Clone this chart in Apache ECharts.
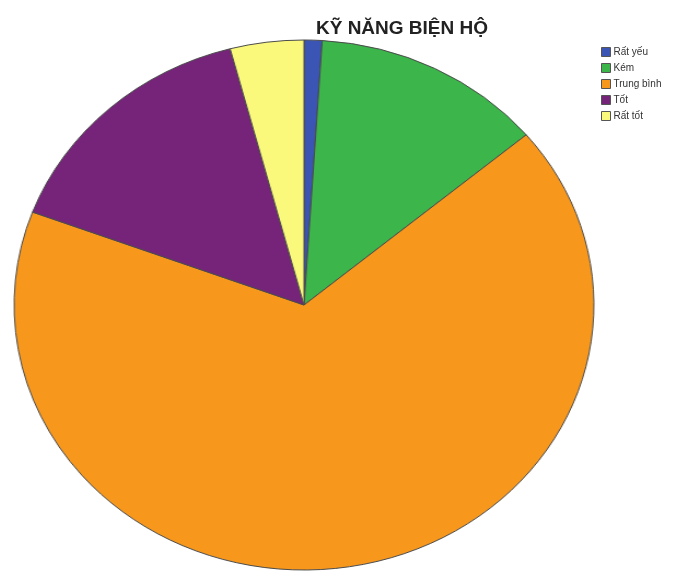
<!DOCTYPE html>
<html>
<head>
<meta charset="utf-8">
<script src="https://cdn.jsdelivr.net/npm/echarts@6/dist/echarts.min.js"></script>
<style>
  html, body { margin: 0; padding: 0; background: #fff; }
  #wrap { position: relative; width: 678px; height: 572px; overflow: hidden; }
  #pie, #top { position: absolute; left: 0; top: 0; width: 678px; height: 572px; }
  /* the original pie is slightly wider than tall */
  #pie { transform-origin: 304px 305px; transform: scaleX(1.094); }
</style>
</head>
<body>
<div id="wrap">
  <div id="pie"></div>
  <div id="top"></div>
</div>
<script type="text/javascript">
    var titleText = 'KỸ NĂNG BIỆN HỘ';
    var categories = ['Rất yếu', 'Kém', 'Trung bình', 'Tốt', 'Rất tốt'];
    var percents = [1.0, 12.9, 66.8, 15.2, 4.1];
    var colors = ['#3a55b4', '#3cb54a', '#f7981d', '#75247a', '#fbf97b'];

    var pieData = [];
    for (var i = 0; i < categories.length; i++) {
        pieData.push({name: categories[i], value: percents[i], itemStyle: {color: colors[i]}});
    }

    // pie itself (stretched horizontally via css)
    var pieChart = echarts.init(document.getElementById('pie'));
    pieChart.setOption({
        animation: false,
        series: [{
            type: 'pie',
            center: [304, 305],
            radius: 265,
            startAngle: 90,
            clockwise: true,
            label: {show: false},
            labelLine: {show: false},
            itemStyle: {borderColor: '#4a4a4a', borderWidth: 1},
            emphasis: {disabled: true},
            data: pieData
        }]
    });

    // title + legend on top, not stretched
    var topChart = echarts.init(document.getElementById('top'));
    topChart.setOption({
        animation: false,
        title: {
            text: titleText,
            left: 397,
            top: 14,
            textAlign: 'center',
            textStyle: {fontFamily: 'Liberation Sans', fontSize: 19, fontWeight: 'bold', color: '#222'}
        },
        legend: {
            orient: 'vertical',
            left: 596,
            top: 42,
            itemWidth: 9,
            itemHeight: 9,
            itemGap: 6,
            icon: 'rect',
            selectedMode: false,
            data: categories,
            itemStyle: {borderColor: '#555', borderWidth: 1},
            textStyle: {fontFamily: 'Liberation Sans', fontSize: 10, color: '#333', padding: [0, 0, 0, -2]}
        },
        series: [{
            type: 'pie',
            radius: 0,
            silent: true,
            label: {show: false},
            labelLine: {show: false},
            itemStyle: {borderWidth: 0},
            data: pieData
        }]
    });
</script>
</body>
</html>
